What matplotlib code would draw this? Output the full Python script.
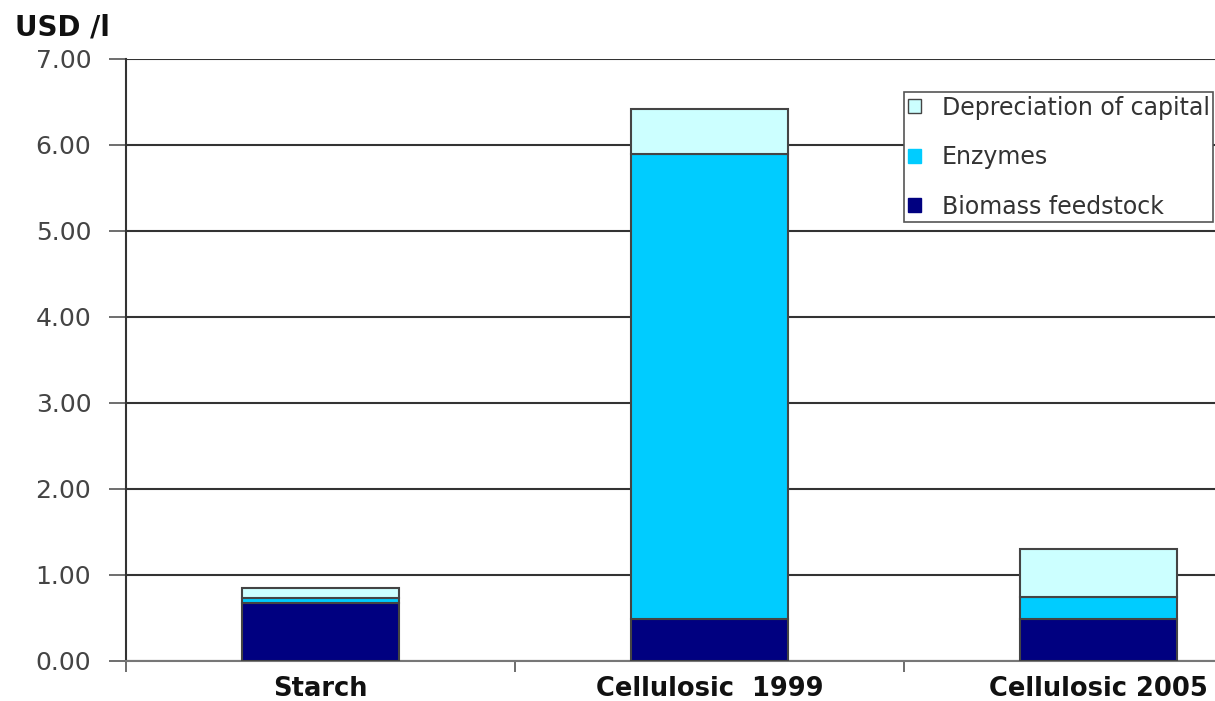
import matplotlib
matplotlib.use("Agg")
import matplotlib.pyplot as plt
from matplotlib.patches import Patch
import numpy as np

plt.rcParams['font.family'] = ['DejaVu Sans']

categories = ["Starch", "Cellulosic  1999", "Cellulosic 2005"]
biomass = [0.67, 0.49, 0.49]
enzymes = [0.06, 5.41, 0.26]
depreciation = [0.12, 0.52, 0.55]
series_names = ["Depreciation of capital", "Enzymes", "Biomass feedstock"]
yticks = [0, 1, 2, 3, 4, 5, 6, 7]

c_bio = "#000080"
c_enz = "#00CCFF"
c_dep = "#CCFFFF"
edge = "#444444"

fig = plt.figure(figsize=(12.15, 7.01), dpi=100)
ax = fig.add_axes([126 / 1215, 40 / 701, 1167 / 1215, 602 / 701])

x = np.arange(len(categories))
w = 0.405
b1 = np.array(biomass)
b2 = b1 + np.array(enzymes)
ax.bar(x, biomass, w, color=c_bio, edgecolor=edge, linewidth=1.5, zorder=3)
ax.bar(x, enzymes, w, bottom=b1, color=c_enz, edgecolor=edge, linewidth=1.5, zorder=3)
ax.bar(x, depreciation, w, bottom=b2, color=c_dep, edgecolor=edge, linewidth=1.5, zorder=3)

ax.set_xlim(-0.5, len(categories) - 0.5)
ax.set_ylim(0, 7)
ax.set_yticks(yticks)
ax.set_yticklabels([f"{v:.2f}" for v in yticks], fontsize=18, color="#444444")
ax.yaxis.grid(True, color="#333333", linewidth=1.5, zorder=1)
ax.set_axisbelow(True)

ax.set_xticks(x)
ax.set_xticklabels(categories, fontsize=18.5, fontweight="bold", color="#111111")
ax.tick_params(axis="x", length=0, pad=11)
ax.set_xticks(np.arange(-0.5, len(categories), 1.0), minor=True)
ax.tick_params(axis="x", which="minor", length=8, width=1.2, color="#555555")
ax.tick_params(axis="y", length=12, width=1.2, color="#555555", pad=13)

for s in ["top", "right"]:
    ax.spines[s].set_visible(False)
ax.spines["left"].set_color("#333333")
ax.spines["left"].set_linewidth(1.5)
ax.spines["bottom"].set_color("#777777")
ax.spines["bottom"].set_linewidth(1.5)

fig.text(15 / 1215, 1 - 27 / 701, "USD /l", fontsize=20, fontweight="bold",
         color="#111111", va="center", ha="left")

handles = [
    Patch(facecolor=c_dep, edgecolor=edge, linewidth=1.0),
    Patch(facecolor=c_enz, edgecolor=c_enz),
    Patch(facecolor=c_bio, edgecolor=c_bio),
]
leg = fig.legend(handles, series_names, loc="upper left",
                 bbox_to_anchor=(904 / 1215, 1 - 92 / 701),
                 fontsize=17, frameon=True, fancybox=False, shadow=False,
                 framealpha=1.0,
                 handlelength=0.55, handleheight=0.55, handletextpad=0.9,
                 labelspacing=1.08, borderpad=0.15, borderaxespad=0)
leg.get_frame().set_edgecolor("#555555")
leg.get_frame().set_linewidth(1.2)
for t in leg.get_texts():
    t.set_color("#333333")

fig.savefig("out.png", dpi=100)
